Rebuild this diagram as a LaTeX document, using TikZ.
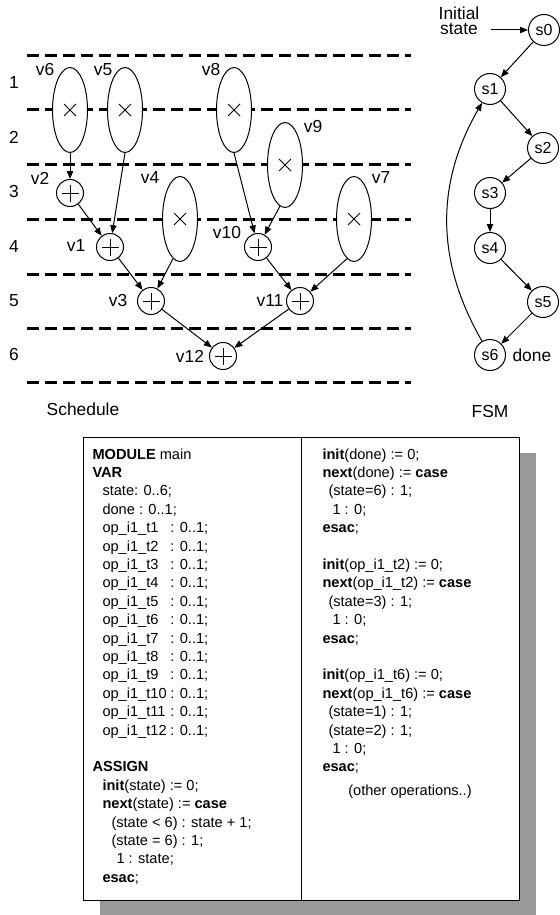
\documentclass[tikz,border=0pt]{standalone}
\usepackage{fontspec}
\setmainfont{Liberation Sans}
\usetikzlibrary{arrows.meta,calc,positioning,shapes.geometric}

\definecolor{shadowgray}{RGB}{153,153,153}
\newcommand{\kw}[1]{\textbf{#1}}
\newcommand{\opvar}[1]{\makebox[4.65em][l]{op\_i1\_t#1}: 0..1;}

\tikzset{
  lbl/.style={font=\fontsize{8.7}{10}\selectfont, inner sep=0pt},
  code/.style={font=\fontsize{7.3}{9.2}\selectfont, align=left, inner sep=0pt, anchor=north west},
  slot/.style={line width=1.5pt, dash pattern=on 6pt off 3pt},
  arr/.style={-{Triangle[length=4pt,width=3.2pt]}},
  mulop/.style={ellipse, draw, fill=white, minimum width=17.5pt, minimum height=42.5pt, inner sep=0pt,
    path picture={\draw[line width=0.4pt]
      ([shift={(-3pt,-3pt)}]path picture bounding box.center) -- ([shift={(3pt,3pt)}]path picture bounding box.center)
      ([shift={(-3pt,3pt)}]path picture bounding box.center) -- ([shift={(3pt,-3pt)}]path picture bounding box.center);}},
  addop/.style={circle, draw, fill=white, minimum size=13.5pt, inner sep=0pt,
    path picture={\draw[line width=0.4pt]
      ([xshift=-4.25pt]path picture bounding box.center) -- ([xshift=4.25pt]path picture bounding box.center)
      ([yshift=-4.25pt]path picture bounding box.center) -- ([yshift=4.25pt]path picture bounding box.center);}},
  fsmstate/.style={circle, draw, fill=white, minimum size=15.5pt, inner sep=0pt, font=\fontsize{8}{9}\selectfont},
}

\begin{document}
\begin{tikzpicture}[x=0.5pt,y=-0.5pt,line width=0.5pt]
  \useasboundingbox (0,0) rectangle (560,915);

  % control steps
  \foreach \y in {56,110,164,219,274,328,382}
    \draw[slot] (27,\y) -- (411,\y);
  \foreach \n/\y in {1/83,2/137,3/192,4/247,5/301,6/355}
    \node[lbl] (row\n) at (14,\y) {\n};

  % multiplications
  \node[mulop] (v6) at (70,110) {};
  \node[mulop] (v5) at (125,110) {};
  \node[mulop] (v8) at (234,110) {};
  \node[mulop] (v9) at (285,165) {};
  \node[mulop] (v4) at (180,219) {};
  \node[mulop] (v7) at (354,219) {};

  % additions
  \node[addop] (v2) at (70,193) {};
  \node[addop] (v1) at (110,247) {};
  \node[addop] (v10) at (258,247) {};
  \node[addop] (v3) at (151,301) {};
  \node[addop] (v11) at (300,301) {};
  \node[addop] (v12) at (223,356) {};

  % operation names
  \node[lbl] (v6name) at (45,70) {v6};
  \node[lbl] (v5name) at (103,70) {v5};
  \node[lbl] (v8name) at (211,70) {v8};
  \node[lbl] (v9name) at (313,127) {v9};
  \node[lbl] (v2name) at (40,178) {v2};
  \node[lbl] (v4name) at (150,178) {v4};
  \node[lbl] (v7name) at (381,178) {v7};
  \node[lbl] (v1name) at (76,246) {v1};
  \node[lbl] (v10name) at (227,233) {v10};
  \node[lbl] (v3name) at (118,301) {v3};
  \node[lbl] (v11name) at (270,301) {v11};
  \node[lbl] (v12name) at (190,356) {v12};

  % data dependencies
  \draw[arr] (v6.south) -- (v2);
  \draw[arr] (v5.south) -- (v1);
  \draw[arr] (v2) -- (v1);
  \draw[arr] (v8.south) -- (v10);
  \draw[arr] (v9.263) -- (v10);
  \draw[arr] (v1) -- (v3);
  \draw[arr] (v4.260) -- (v3);
  \draw[arr] (v10) -- (v11);
  \draw[arr] (v7.260) -- (v11);
  \draw[arr] (v3) -- (v12);
  \draw[arr] (v11) -- (v12);

  \node[lbl] (schedname) at (83,409) {Schedule};

  % controller
  \node[fsmstate] (s0) at (544,30) {s0};
  \node[fsmstate] (s1) at (490,89) {s1};
  \node[fsmstate] (s2) at (543,148) {s2};
  \node[fsmstate] (s3) at (490,193) {s3};
  \node[fsmstate] (s4) at (490,248) {s4};
  \node[fsmstate] (s5) at (543,302) {s5};
  \node[fsmstate] (s6) at (490,355) {s6};
  \node[lbl, right=3pt of s6] (donename) {done};
  \node[lbl, align=center, font=\fontsize{8.7}{7.5}\selectfont] (initname) at (459,21) {Initial\\state};
  \coordinate (initpt) at (491,30);

  \draw[arr] (initpt) -- (s0);
  \draw[arr] (s0) -- (s1);
  \draw[arr] (s1) -- (s2);
  \draw[arr] (s2) -- (s3);
  \draw[arr] (s3) -- (s4);
  \draw[arr] (s4) -- (s5);
  \draw[arr] (s5) -- (s6);
  \draw[arr] (s6) to[bend left=30] (s1);

  \node[lbl] (fsmname) at (490,412) {FSM};

  % smv model
  \fill[shadowgray] (100,453) rectangle (536,916);
  \draw[fill=white] (83,437) rectangle (519,900);
  \draw (301,437) -- (301,900);

  \node[code] (codeleft) at (92,448) {%
    \kw{MODULE} main\\
    \kw{VAR}\\
    \hspace*{5pt}state: 0..6;\\
    \hspace*{5pt}done : 0..1;\\
    \hspace*{5pt}\opvar{1}\\
    \hspace*{5pt}\opvar{2}\\
    \hspace*{5pt}\opvar{3}\\
    \hspace*{5pt}\opvar{4}\\
    \hspace*{5pt}\opvar{5}\\
    \hspace*{5pt}\opvar{6}\\
    \hspace*{5pt}\opvar{7}\\
    \hspace*{5pt}\opvar{8}\\
    \hspace*{5pt}\opvar{9}\\
    \hspace*{5pt}\opvar{10}\\
    \hspace*{5pt}\opvar{11}\\
    \hspace*{5pt}\opvar{12}\\[9.2pt]
    \kw{ASSIGN}\\
    \hspace*{5pt}\kw{init}(state) := 0;\\
    \hspace*{5pt}\kw{next}(state) := \kw{case}\\
    \hspace*{9.5pt}(state < 6) : state + 1;\\
    \hspace*{9.5pt}(state = 6) : 1;\\
    \hspace*{12pt}1 : state;\\
    \hspace*{5pt}\kw{esac};};

  \node[code] (coderight) at (322,448) {%
    \kw{init}(done) := 0;\\
    \kw{next}(done) := \kw{case}\\
    \hspace*{3pt}(state=6) : 1;\\
    \hspace*{5pt}1 : 0;\\
    \kw{esac};\\[9.2pt]
    \kw{init}(op\_i1\_t2) := 0;\\
    \kw{next}(op\_i1\_t2) := \kw{case}\\
    \hspace*{3pt}(state=3) : 1;\\
    \hspace*{5pt}1 : 0;\\
    \kw{esac};\\[9.2pt]
    \kw{init}(op\_i1\_t6) := 0;\\
    \kw{next}(op\_i1\_t6) := \kw{case}\\
    \hspace*{3pt}(state=1) : 1;\\
    \hspace*{3pt}(state=2) : 1;\\
    \hspace*{5pt}1 : 0;\\
    \kw{esac};};

  \node[code, anchor=center] (codenote) at (410,792) {(other operations..)};
\end{tikzpicture}
\end{document}
